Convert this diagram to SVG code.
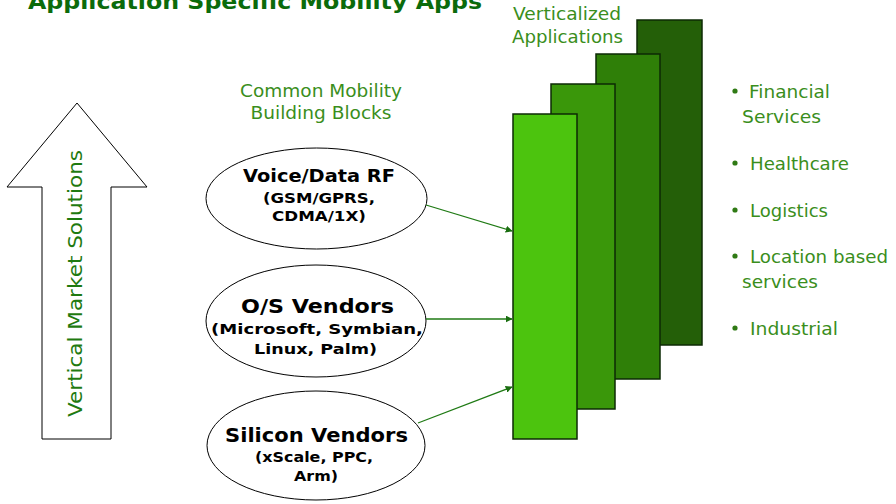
<svg xmlns="http://www.w3.org/2000/svg" width="896" height="504" viewBox="0 0 896 504">
  <defs>
    <style>
      .label { font-family: "DejaVu Sans", Verdana, sans-serif; fill: #3a8e1c; }
      .node-title { font-family: "DejaVu Sans", Verdana, sans-serif; font-weight: bold; fill: #000; text-anchor: middle; }
      .node-sub { font-family: "DejaVu Sans", Verdana, sans-serif; font-weight: bold; fill: #000; text-anchor: middle; font-size: 14px; }
      .oval { fill: #fff; stroke: #000; stroke-width: 1; }
      .bar { stroke: #0d2a05; stroke-width: 1.5; }
      .conn { stroke: #1f7a14; stroke-width: 1.3; fill: none; marker-end: url(#arrow); }
    </style>
    <marker id="arrow" viewBox="0 0 10 10" refX="9" refY="5" markerWidth="7" markerHeight="7" markerUnits="userSpaceOnUse" orient="auto">
      <path d="M0,0 L10,5 L0,10 z" fill="#1a6e10"/>
    </marker>
  </defs>

  <!-- heading -->
  <text x="28" y="9" font-family="DejaVu Sans, Verdana, sans-serif" font-weight="bold" font-size="22" fill="#0b6b0b" textLength="454" lengthAdjust="spacingAndGlyphs">Application Specific Mobility Apps</text>

  <!-- upward arrow -->
  <g id="vertical-arrow">
    <path d="M77,103 L147,187 L111,187 L111,439 L42,439 L42,187 L7,187 Z" fill="#fff" stroke="#000" stroke-width="1"/>
    <text transform="translate(82,283.5) rotate(-90)" text-anchor="middle" font-family="DejaVu Sans, Verdana, sans-serif" font-size="19" fill="#1f7a10" textLength="267" lengthAdjust="spacingAndGlyphs">Vertical Market Solutions</text>
  </g>

  <!-- column captions -->
  <g id="caption-blocks">
    <text x="321" y="97" text-anchor="middle" class="label" font-size="17" textLength="162" lengthAdjust="spacingAndGlyphs">Common Mobility</text>
    <text x="321" y="119" text-anchor="middle" class="label" font-size="17" textLength="141" lengthAdjust="spacingAndGlyphs">Building Blocks</text>
  </g>
  <g id="caption-vertical">
    <text x="567" y="20" text-anchor="middle" class="label" font-size="17" textLength="108" lengthAdjust="spacingAndGlyphs">Verticalized</text>
    <text x="567.5" y="43" text-anchor="middle" class="label" font-size="17" textLength="111" lengthAdjust="spacingAndGlyphs">Applications</text>
  </g>

  <!-- stacked application bars -->
  <g id="bars">
    <rect class="bar" x="637" y="20" width="65" height="325" fill="#245f08"/>
    <rect class="bar" x="596" y="54" width="64" height="325" fill="#2f7f08"/>
    <rect class="bar" x="551" y="84" width="64" height="325" fill="#3a970a"/>
    <rect class="bar" x="513" y="114" width="64" height="325" fill="#4cc40e"/>
  </g>

  <!-- building block nodes -->
  <g id="node-rf">
    <ellipse class="oval" cx="316.5" cy="198.5" rx="110.5" ry="50.5"/>
    <text x="319" y="182" class="node-title" font-size="18" textLength="152" lengthAdjust="spacingAndGlyphs">Voice/Data RF</text>
    <text x="319" y="203" class="node-sub" textLength="112" lengthAdjust="spacingAndGlyphs">(GSM/GPRS,</text>
    <text x="319" y="221" class="node-sub" textLength="94" lengthAdjust="spacingAndGlyphs">CDMA/1X)</text>
  </g>
  <g id="node-os">
    <ellipse class="oval" cx="316" cy="321" rx="110" ry="56"/>
    <text x="317.5" y="313" class="node-title" font-size="20" textLength="153" lengthAdjust="spacingAndGlyphs">O/S Vendors</text>
    <text x="317" y="334" class="node-sub" textLength="212" lengthAdjust="spacingAndGlyphs">(Microsoft, Symbian,</text>
    <text x="315.5" y="354" class="node-sub" textLength="123" lengthAdjust="spacingAndGlyphs">Linux, Palm)</text>
  </g>
  <g id="node-silicon">
    <ellipse class="oval" cx="316" cy="445.5" rx="109" ry="54.5"/>
    <text x="316.5" y="442" class="node-title" font-size="20" textLength="183" lengthAdjust="spacingAndGlyphs">Silicon Vendors</text>
    <text x="314" y="462" class="node-sub" textLength="118" lengthAdjust="spacingAndGlyphs">(xScale, PPC,</text>
    <text x="316" y="481" class="node-sub" textLength="44" lengthAdjust="spacingAndGlyphs">Arm)</text>
  </g>

  <!-- connectors -->
  <g id="connectors">
    <line class="conn" x1="426" y1="205" x2="512" y2="231"/>
    <line class="conn" x1="426" y1="319" x2="512" y2="319"/>
    <line class="conn" x1="418" y1="423" x2="512" y2="387"/>
  </g>

  <!-- market list -->
  <g id="market-list">
    <circle cx="735" cy="91" r="2.6" fill="#2f7a14"/>
    <text x="749" y="98" class="label" font-size="18" textLength="81" lengthAdjust="spacingAndGlyphs">Financial</text>
    <text x="742" y="123" class="label" font-size="18" textLength="79" lengthAdjust="spacingAndGlyphs">Services</text>
    <circle cx="735" cy="163" r="2.6" fill="#2f7a14"/>
    <text x="750" y="170" class="label" font-size="18" textLength="99" lengthAdjust="spacingAndGlyphs">Healthcare</text>
    <circle cx="735" cy="210" r="2.6" fill="#2f7a14"/>
    <text x="750" y="217" class="label" font-size="18" textLength="78" lengthAdjust="spacingAndGlyphs">Logistics</text>
    <circle cx="735" cy="256" r="2.6" fill="#2f7a14"/>
    <text x="750" y="263" class="label" font-size="18" textLength="138" lengthAdjust="spacingAndGlyphs">Location based</text>
    <text x="742" y="288" class="label" font-size="18" textLength="76" lengthAdjust="spacingAndGlyphs">services</text>
    <circle cx="735" cy="328" r="2.6" fill="#2f7a14"/>
    <text x="750" y="335" class="label" font-size="18" textLength="88" lengthAdjust="spacingAndGlyphs">Industrial</text>
  </g>
</svg>
